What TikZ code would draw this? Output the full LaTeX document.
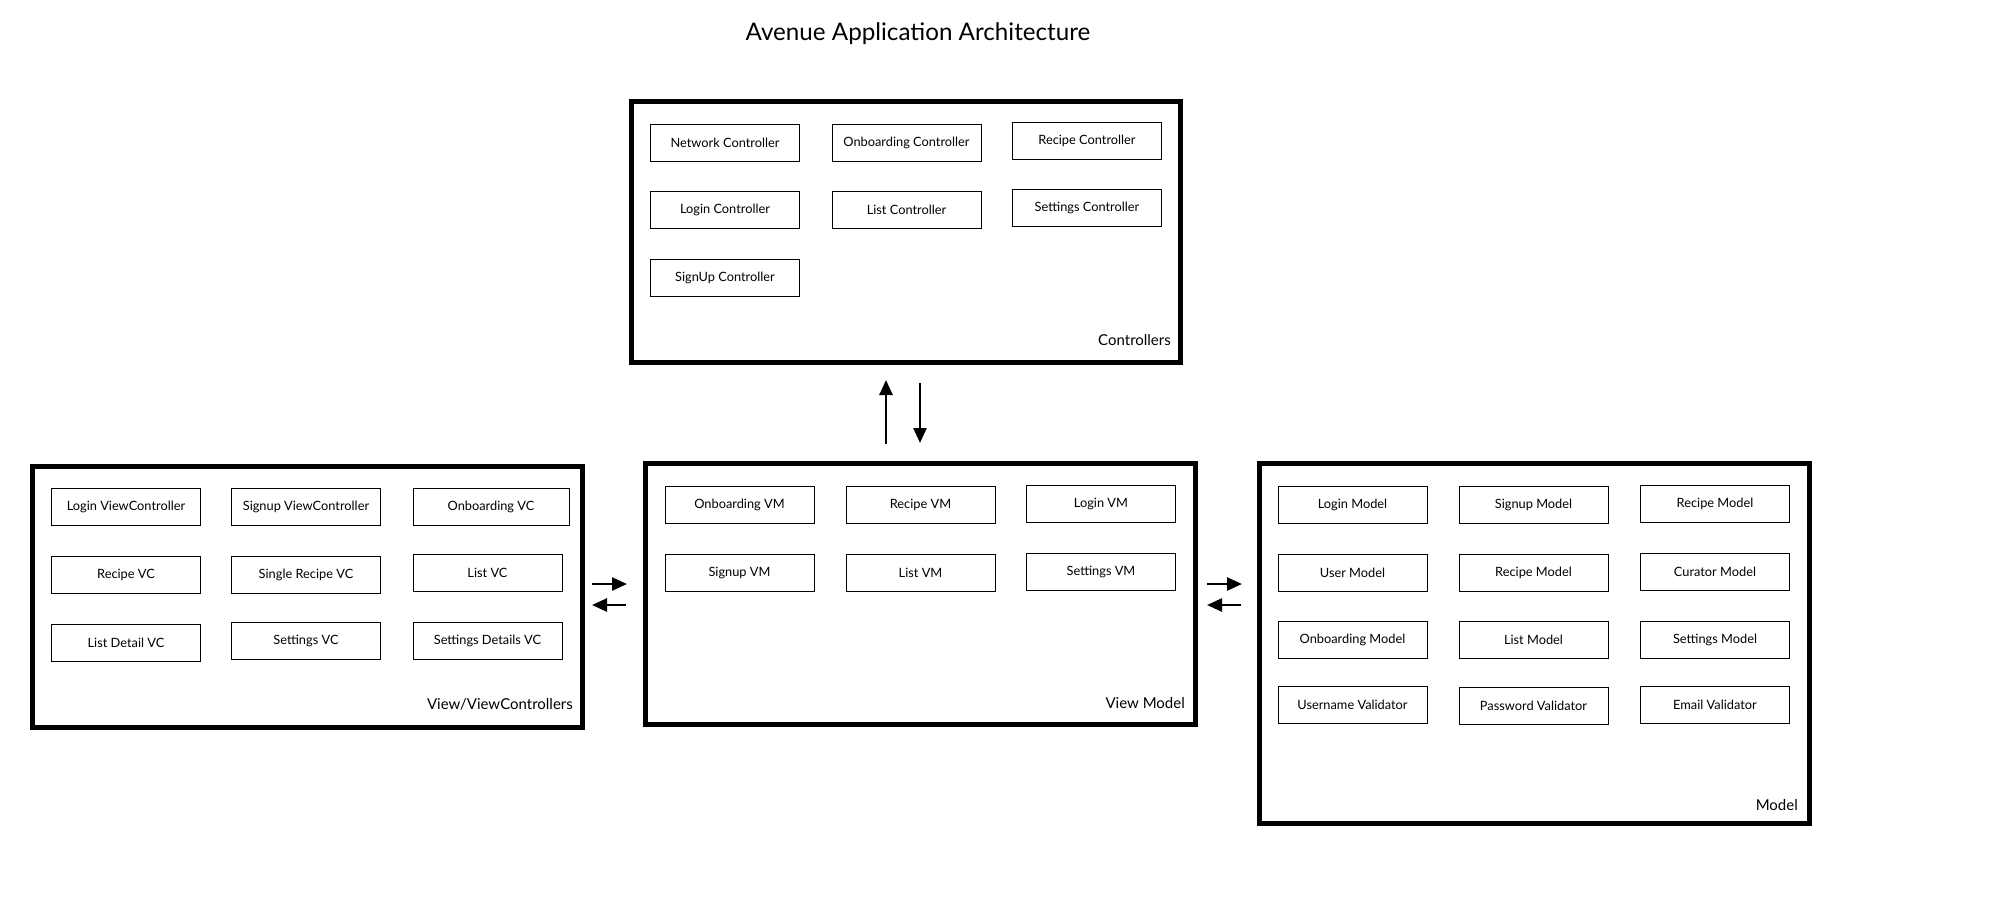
\documentclass[tikz,border=0pt]{standalone}
\usepackage{fontspec}
\setmainfont{Lato}
\usetikzlibrary{arrows.meta}
\tikzset{
  item/.style={draw, line width=1.0pt, minimum width=149pt, minimum height=37pt, inner sep=0pt, font=\fontsize{12.8}{15}\selectfont},
  group/.style={draw, line width=5pt, inner sep=0pt},
  grouplabel/.style={anchor=east, inner sep=0pt, font=\fontsize{15}{18}\selectfont},
  flow/.style={line width=2.6pt, -{Triangle[length=15pt,width=13pt]}}
}
\begin{document}
\begin{tikzpicture}[x=1pt,y=-1pt]
\useasboundingbox[fill=white] (0,0) rectangle (2000,898);
\node[font=\fontsize{24.2}{28}\selectfont] (title) at (918,34) {Avenue Application Architecture};

% Controllers
\node[group, minimum width=549pt, minimum height=261pt] (ctrl) at (905.5,231.5) {};
\node[grouplabel] (ctrllbl) at (1171,340) {Controllers};
\node[item] (netc) at (725,142.5) {Network Controller};
\node[item] (onbc) at (906.5,142.5) {Onboarding Controller};
\node[item] (recc) at (1087,140.5) {Recipe Controller};
\node[item] (logc) at (725,209.5) {Login Controller};
\node[item] (lstc) at (906.5,209.5) {List Controller};
\node[item] (setc) at (1087,207.5) {Settings Controller};
\node[item] (sigc) at (725,277.5) {SignUp Controller};

% View / ViewControllers
\node[group, minimum width=550pt, minimum height=261pt] (vcs) at (307,596.5) {};
\node[grouplabel] (vcslbl) at (573,704) {View/ViewControllers};
\node[item] (logvc) at (126,506.5) {Login ViewController};
\node[item] (sigvc) at (306,506.5) {Signup ViewController};
\node[item, minimum width=156pt] (onbvc) at (491,506.5) {Onboarding VC};
\node[item] (recvc) at (126,574.5) {Recipe VC};
\node[item] (srvc) at (306,574.5) {Single Recipe VC};
\node[item] (lstvc) at (487.5,572.5) {List VC};
\node[item] (ldvc) at (126,642.5) {List Detail VC};
\node[item] (setvc) at (306,640.5) {Settings VC};
\node[item] (sdvc) at (487.5,640.5) {Settings Details VC};

% View Model
\node[group, minimum width=550pt, minimum height=261pt] (vm) at (920,593.5) {};
\node[grouplabel] (vmlbl) at (1185,703) {View Model};
\node[item] (onbvm) at (739.5,504.5) {Onboarding VM};
\node[item] (recvm) at (920.5,504.5) {Recipe VM};
\node[item] (logvm) at (1101,503.5) {Login VM};
\node[item] (sigvm) at (739.5,572.5) {Signup VM};
\node[item] (lstvm) at (920.5,572.5) {List VM};
\node[item] (setvm) at (1101,571.5) {Settings VM};

% Model
\node[group, minimum width=550pt, minimum height=360pt] (model) at (1534,643) {};
\node[grouplabel] (modellbl) at (1798,805) {Model};
\node[item] (logm) at (1352.5,504.5) {Login Model};
\node[item] (sigm) at (1533.5,504.5) {Signup Model};
\node[item] (recm) at (1715,503.5) {Recipe Model};
\node[item] (usrm) at (1352.5,572.5) {User Model};
\node[item] (recm2) at (1533.5,572.5) {Recipe Model};
\node[item] (curm) at (1715,571.5) {Curator Model};
\node[item] (onbm) at (1352.5,639.5) {Onboarding Model};
\node[item] (lstm) at (1533.5,639.5) {List Model};
\node[item] (setm) at (1715,639.5) {Settings Model};
\node[item] (usv) at (1352.5,704.5) {Username Validator};
\node[item] (pwv) at (1533.5,705.5) {Password Validator};
\node[item] (emv) at (1715,704.5) {Email Validator};

% arrow end points
\coordinate (u1) at (886,444);
\coordinate (u2) at (886,380);
\coordinate (d1) at (920,383);
\coordinate (d2) at (920,443);
\coordinate (l1a) at (592,584);
\coordinate (l1b) at (627,584);
\coordinate (l2a) at (626,605);
\coordinate (l2b) at (592,605);
\coordinate (r1a) at (1207,584);
\coordinate (r1b) at (1242,584);
\coordinate (r2a) at (1241,605);
\coordinate (r2b) at (1207,605);

\draw[flow] (u1) -- (u2);
\draw[flow] (d1) -- (d2);
\draw[flow] (l1a) -- (l1b);
\draw[flow] (l2a) -- (l2b);
\draw[flow] (r1a) -- (r1b);
\draw[flow] (r2a) -- (r2b);
\end{tikzpicture}
\end{document}
